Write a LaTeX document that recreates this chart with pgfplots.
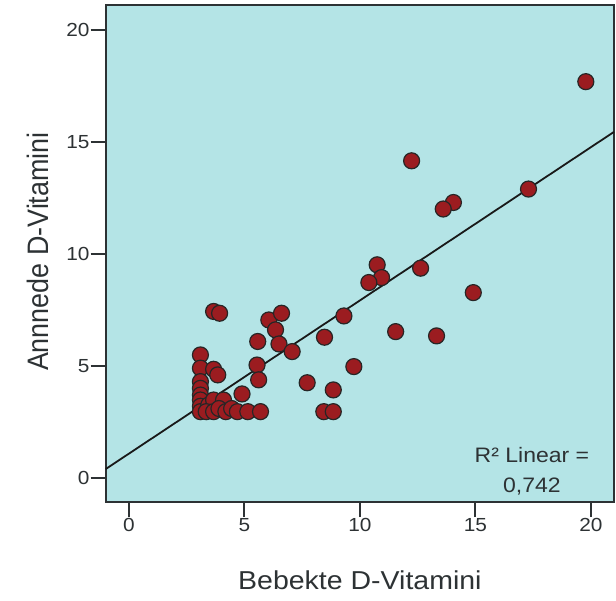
\documentclass[border=0pt]{standalone}
\usepackage{pgfplots}
\pgfplotsset{compat=1.18}
\usepackage{fontspec}
\setmainfont{Liberation Sans}
\newfontfamily\widefont[FakeStretch=1.1]{Liberation Sans}
\definecolor{bgc}{RGB}{180,228,230}
\definecolor{ptc}{RGB}{155,28,32}
\definecolor{axc}{RGB}{45,50,52}
\begin{document}
\begin{tikzpicture}
\begin{axis}[
  scale only axis,
  width=508.3bp, height=497bp,
  xmin=-1, xmax=21, ymin=-1.07, ymax=21.1,
  xtick={0,5,10,15,20}, ytick={0,5,10,15,20},
  tick pos=left, tick align=outside,
  major tick length=15bp,
  tick style={draw=axc, line width=2bp},
  axis line style={draw=axc, line width=2.2bp},
  axis background/.style={fill=bgc},
  /pgf/number format/assume math mode=true,
  ticklabel style={font=\widefont\fontsize{19}{22}\selectfont, text=axc},
  yticklabel style={inner sep=1bp},
  xticklabel style={inner sep=1bp},
  xlabel={\widefont\fontsize{26}{30}\selectfont Bebekte D-Vitamini},
  ylabel={\scalebox{1}[1.1]{\fontsize{27}{30}\selectfont Annnede D-Vitamini}},
  xlabel style={at={(axis cs:10,-4.55)}, anchor=center, text=axc},
  ylabel style={at={(axis cs:-3.95,10.1)}, anchor=center, text=axc},
  clip=false,
]
\addplot[only marks, mark=*, mark size=8bp,
  mark options={fill=ptc, draw=black!85, line width=1.2bp}] coordinates {
(19.78,17.68) (17.30,12.89) (12.24,14.15) (14.05,12.29) (13.61,12.00)
(10.75,9.51) (10.94,8.94) (10.39,8.72) (12.63,9.36) (14.91,8.27)
(9.31,7.23) (8.47,6.28) (11.55,6.53) (13.32,6.34) (9.74,4.97)
(7.72,4.25) (8.85,3.93) (8.44,2.96) (8.85,2.96)
(6.06,7.05) (6.61,7.35) (6.35,6.61) (5.58,6.09) (6.50,5.98) (7.07,5.64)
(5.55,5.04) (5.62,4.38) (3.67,7.43) (3.93,7.35)
(3.1,5.49) (3.1,4.9) (3.67,4.85) (3.85,4.6) (3.1,4.3) (3.1,4.0)
(3.1,3.7) (3.1,3.48) (3.1,3.2) (3.1,2.96)
(3.46,3.26) (3.67,3.48) (4.1,3.48) (4.9,3.75)
(3.35,2.96) (3.67,2.96) (3.9,3.1) (4.2,2.96) (4.45,3.1) (4.7,2.96) (5.15,2.96) (5.7,2.96)
};
\addplot[draw=black!90, line width=1.8bp] coordinates {(-1,0.40) (21,15.44)};
\node[font=\widefont\fontsize{21}{24}\selectfont, text=axc] at (axis cs:17.45,1.03) {R² Linear =};
\node[font=\widefont\fontsize{21}{24}\selectfont, text=axc] at (axis cs:17.45,-0.4) {0,742};
\end{axis}
\pgfresetboundingbox
\path[use as bounding box] ([shift={(-105.7bp,-99bp)}]current axis.south west) rectangle ([shift={(2bp,5bp)}]current axis.north east);
\end{tikzpicture}
\end{document}
